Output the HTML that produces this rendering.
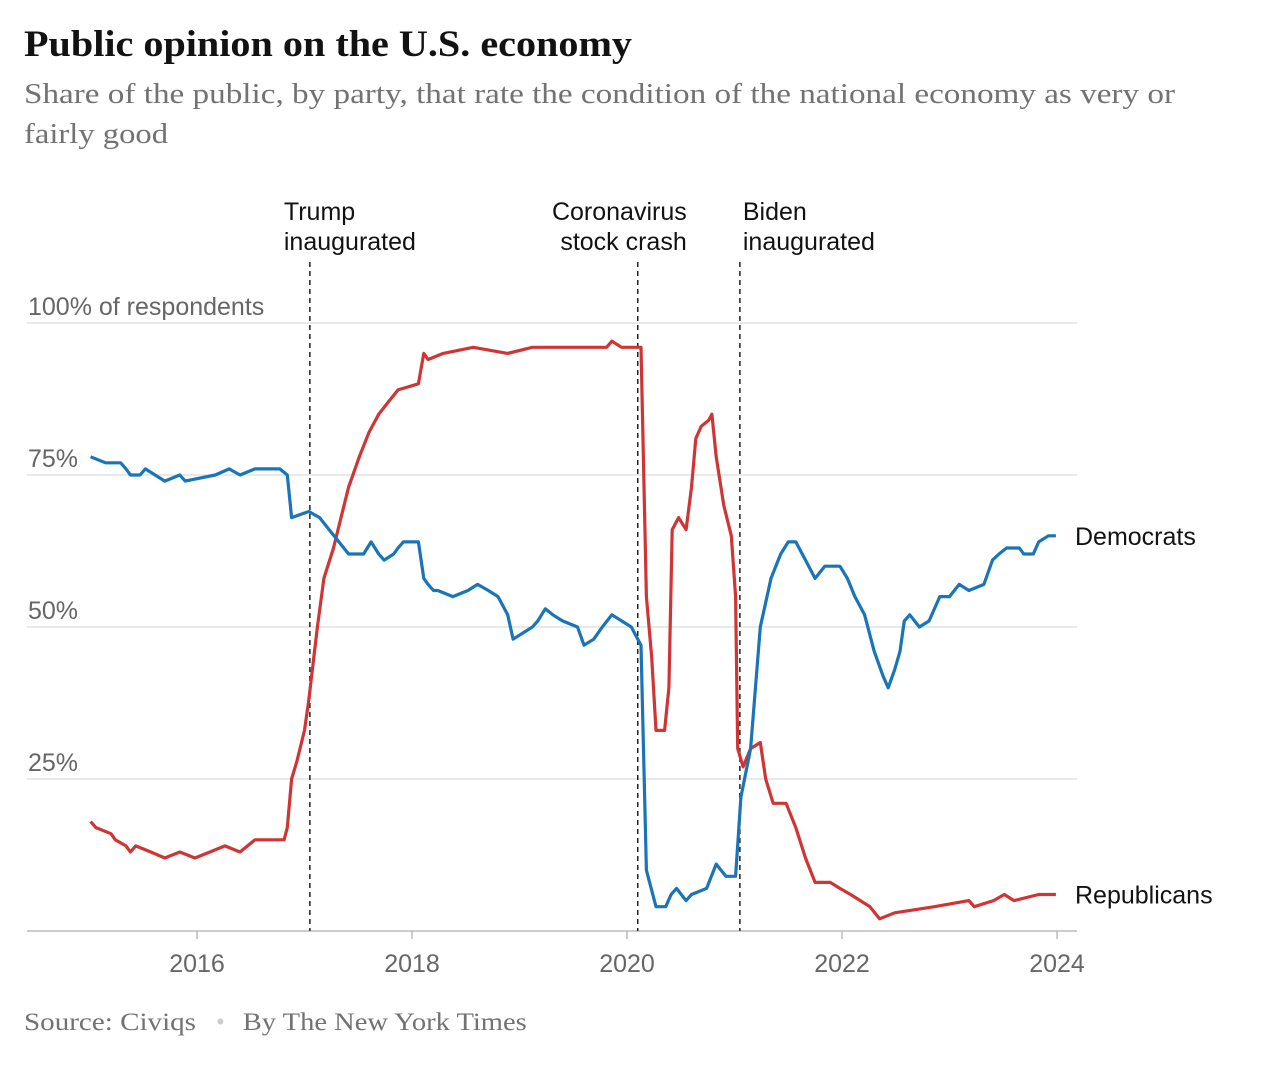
<!DOCTYPE html>
<html><head><meta charset="utf-8"><style>
body{margin:0;background:#fff;width:1266px;height:1060px;overflow:hidden}
svg text{font-family:"Liberation Sans",sans-serif}
</style></head><body>
<svg id="chart" width="1266" height="1060" xmlns="http://www.w3.org/2000/svg">
<text x="24" y="56" textLength="608" lengthAdjust="spacingAndGlyphs" style="font-family:'Liberation Serif',serif;font-weight:bold;font-size:37px" fill="#121212">Public opinion on the U.S. economy</text>
<text style="font-family:'Liberation Serif',serif;font-size:28px" fill="#727272"><tspan x="24" y="103" textLength="1151" lengthAdjust="spacingAndGlyphs">Share of the public, by party, that rate the condition of the national economy as very or</tspan><tspan x="24" y="143" textLength="144" lengthAdjust="spacingAndGlyphs">fairly good</tspan></text>
<g id="grid"></g><g id="events"></g><g id="lines"></g><g id="labels"></g>
<text x="24" y="1030" style="font-family:'Liberation Serif',serif;font-size:25px" fill="#727272"><tspan textLength="172" lengthAdjust="spacingAndGlyphs">Source: Civiqs</tspan><tspan dx="20" fill="#ccc">•</tspan><tspan dx="18" textLength="284" lengthAdjust="spacingAndGlyphs">By The New York Times</tspan></text>
</svg>
<script>
const yTicks=[25,50,75,100];
const xTicks=[2016,2018,2020,2022,2024];
const eventDates=[2017.05,2020.1,2021.05];
const eventLabels=[["Trump","inaugurated"],["Coronavirus","stock crash"],["Biden","inaugurated"]];
const demDates=[2015.01,2015.15,2015.29,2015.34,2015.38,2015.47,2015.52,2015.61,2015.70,2015.84,2015.89,2016.17,2016.30,2016.40,2016.54,2016.77,2016.84,2016.88,2017.04,2017.14,2017.23,2017.32,2017.41,2017.55,2017.62,2017.69,2017.74,2017.83,2017.87,2017.92,2018.06,2018.11,2018.15,2018.20,2018.24,2018.38,2018.52,2018.61,2018.71,2018.80,2018.89,2018.94,2019.03,2019.12,2019.17,2019.24,2019.31,2019.40,2019.54,2019.60,2019.69,2019.77,2019.86,2019.95,2020.04,2020.13,2020.18,2020.27,2020.36,2020.41,2020.46,2020.55,2020.60,2020.74,2020.83,2020.92,2021.01,2021.06,2021.15,2021.24,2021.34,2021.43,2021.50,2021.57,2021.66,2021.75,2021.84,2021.98,2022.05,2022.12,2022.21,2022.30,2022.38,2022.43,2022.49,2022.54,2022.58,2022.63,2022.72,2022.81,2022.91,2023.00,2023.09,2023.18,2023.32,2023.40,2023.46,2023.53,2023.65,2023.69,2023.78,2023.83,2023.92,2023.99];
const demValues=[78,77,77,76,75,75,76,75,74,75,74,75,76,75,76,76,75,68,69,68,66,64,62,62,64,62,61,62,63,64,64,58,57,56,56,55,56,57,56,55,52,48,49,50,51,53,52,51,50,47,48,50,52,51,50,47,10,4,4,6,7,5,6,7,11,9,9,22,30,50,58,62,64,64,61,58,60,60,58,55,52,46,42,40,43,46,51,52,50,51,55,55,57,56,57,61,62,63,63,62,62,64,65,65];
const repDates=[2015.01,2015.06,2015.20,2015.24,2015.34,2015.38,2015.43,2015.57,2015.70,2015.84,2015.98,2016.12,2016.26,2016.40,2016.54,2016.81,2016.84,2016.88,2016.93,2017.00,2017.04,2017.12,2017.18,2017.27,2017.34,2017.41,2017.51,2017.60,2017.69,2017.78,2017.87,2018.06,2018.11,2018.15,2018.29,2018.57,2018.89,2019.12,2019.81,2019.86,2019.95,2020.13,2020.18,2020.23,2020.27,2020.35,2020.39,2020.42,2020.48,2020.55,2020.60,2020.64,2020.69,2020.76,2020.79,2020.83,2020.90,2020.97,2021.01,2021.03,2021.08,2021.15,2021.24,2021.29,2021.36,2021.48,2021.57,2021.66,2021.75,2021.89,2021.98,2022.08,2022.17,2022.26,2022.35,2022.49,2022.86,2023.18,2023.23,2023.41,2023.51,2023.60,2023.83,2023.99];
const repValues=[18,17,16,15,14,13,14,13,12,13,12,13,14,13,15,15,17,25,28,33,38,50,58,63,68,73,78,82,85,87,89,90,95,94,95,96,95,96,96,97,96,96,55,45,33,33,40,66,68,66,73,81,83,84,85,78,70,65,55,30,27,30,31,25,21,21,17,12,8,8,7,6,5,4,2,3,4,5,4,5,6,5,6,6];
const seriesNames=["Democrats","Republicans"];
const NS="http://www.w3.org/2000/svg";
const x=d=>197+(d-2016)*107.5;
const y=v=>931-v*6.08;
function mk(tag,attrs,parent){const e=document.createElementNS(NS,tag);for(const k in attrs)e.setAttribute(k,attrs[k]);document.getElementById(parent).appendChild(e);return e;}
yTicks.forEach(t=>{
 const l=mk('line',{x1:27,x2:1077,y1:y(t),y2:y(t),stroke:'#e2e2e2','stroke-width':1.5},'grid');
 
 
 const tx=mk('text',{x:28,y:y(t)-8,'font-size':25,fill:'#666'},'grid');
 tx.textContent=t===100?'100% of respondents':t+'%';
 
 
});
const ax=mk('line',{x1:27,x2:1077,y1:931,y2:931,stroke:'#bbb','stroke-width':1.5},'grid');


xTicks.forEach(t=>{
 const tk=mk('line',{x1:x(t),x2:x(t),y1:931,y2:939,stroke:'#bbb','stroke-width':1.5},'grid');
 
 
 const tx=mk('text',{x:x(t),y:972,'font-size':25,fill:'#666','text-anchor':'middle'},'grid');
 tx.textContent=t;
 
 
});
const labelOffsets=[-26,49,3];
eventDates.forEach((d,i)=>{
 const l=mk('line',{x1:x(d),x2:x(d),y1:262,y2:931,stroke:'#222','stroke-width':1.5,'stroke-dasharray':'5,4'},'events');
 
 
 const tx=mk('text',{'font-size':25,fill:'#121212','text-anchor':i===1?'end':'start'},'events');
 
 
 eventLabels[i].forEach((s,j)=>{const ts=document.createElementNS(NS,'tspan');ts.setAttribute('x',x(d)+labelOffsets[i]);ts.setAttribute('y',220+30*j);ts.textContent=s;tx.appendChild(ts);});
});
function linePath(ds,vs){return ds.map((d,i)=>(i?'L':'M')+x(d).toFixed(1)+','+y(vs[i]).toFixed(1)).join(' ');}
const rep=mk('path',{d:linePath(repDates,repValues),fill:'none',stroke:'#d03535','stroke-width':3.2,'stroke-linejoin':'round'},'lines');


const dem=mk('path',{d:linePath(demDates,demValues),fill:'none',stroke:'#1a74b8','stroke-width':3.2,'stroke-linejoin':'round'},'lines');


[[demValues,seriesNames[0]],[repValues,seriesNames[1]]].forEach(([vs,n])=>{
 const tx=mk('text',{x:1075,y:y(vs[vs.length-1])+9,'font-size':25,fill:'#121212'},'labels');
 tx.textContent=n;
 
 
});
</script>
</body></html>
